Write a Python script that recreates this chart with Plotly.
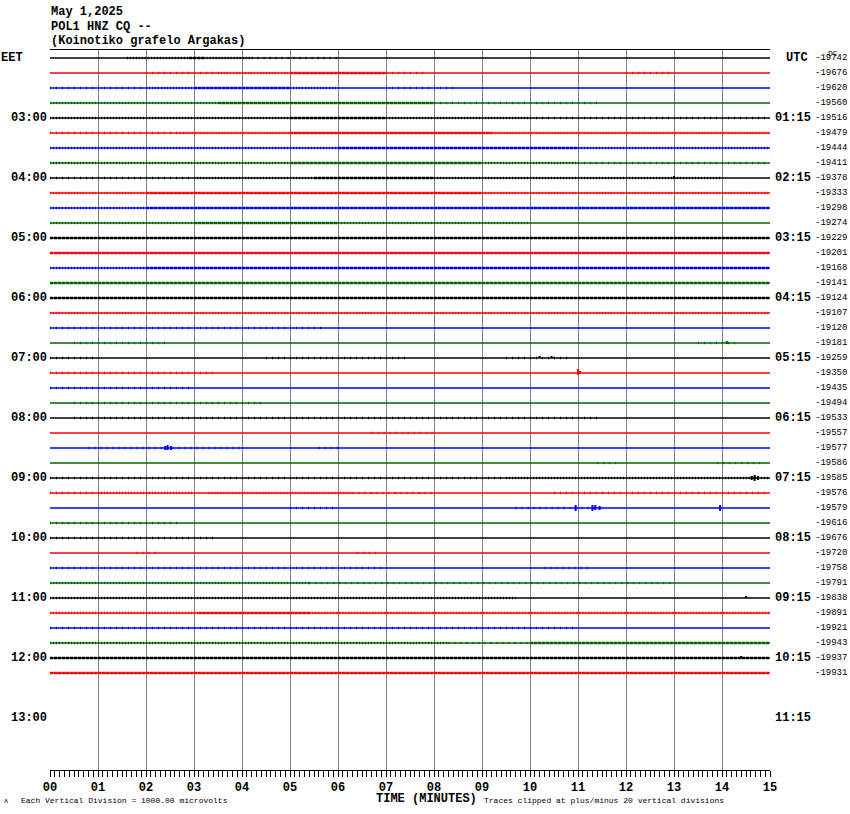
import plotly.graph_objects as go

# ---------------- data read from the helicorder ----------------
HEADER = ["May 1,2025", "POL1 HNZ CQ --", "(Koinotiko grafelo Argakas)"]
LOCAL_HOURS = ["03:00", "04:00", "05:00", "06:00", "07:00", "08:00",
               "09:00", "10:00", "11:00", "12:00", "13:00"]
UTC_HOURS = ["01:15", "02:15", "03:15", "04:15", "05:15", "06:15",
             "07:15", "08:15", "09:15", "10:15", "11:15"]
DC_VALUES = [-19742, -19676, -19620, -19560, -19516, -19479, -19444, -19411,
             -19378, -19333, -19298, -19274, -19229, -19201, -19168, -19141,
             -19124, -19107, -19120, -19181, -19259, -19350, -19435, -19494,
             -19533, -19557, -19577, -19586, -19585, -19576, -19579, -19616,
             -19676, -19720, -19758, -19791, -19838, -19891, -19921, -19943,
             -19937, -19931]
MINUTE_LABELS = ["00", "01", "02", "03", "04", "05", "06", "07", "08",
                 "09", "10", "11", "12", "13", "14", "15"]
TRACE_COLORS = ["#000000", "#ff0000", "#0000ff", "#006400"]

# noisy stretches of each line: trace index, start/end minute, density (1 sparse .. 3 dense)
NOISE_TRACE = [0, 0, 0, 0, 1, 1, 1, 1, 1, 2, 2, 2, 2, 2, 3, 3, 3, 4, 4, 4, 4,
               5, 5, 5, 5, 6, 6, 6, 7, 7, 7, 7, 8, 8, 8, 8, 9, 9, 9, 10, 10,
               11, 11, 11, 12, 13, 14, 14, 15, 16, 17, 18, 19, 19, 20, 20, 20,
               21, 22, 23, 24, 25, 26, 26, 27, 27, 28, 28, 29, 29, 29, 29, 29,
               30, 30, 31, 32, 33, 33, 34, 34, 35, 35, 36, 37, 37, 37, 38,
               39, 39, 39, 40, 41]
NOISE_START = [1.6, 2.9, 3.2, 4.2, 2.0, 3.5, 5.0, 7.0, 12.0, 0.0, 2.0, 3.0, 5.0, 7.0,
               0.0, 3.5, 8.0, 0.0, 5.0, 7.0, 10.0, 0.0, 2.7, 5.0, 9.2, 0.0, 6.0,
               11.0, 0.0, 5.0, 9.0, 11.0, 0.0, 3.0, 5.5, 8.0, 0.0, 2.0, 9.0, 0.0,
               2.0, 0.0, 3.0, 6.0, 0.0, 0.0, 0.0, 2.0, 0.0, 0.0, 0.0, 0.0, 0.5,
               13.5, 0.0, 4.5, 9.5, 0.0, 0.0, 0.5, 0.5, 6.7, 0.8, 5.6, 11.4, 13.9,
               0.0, 9.5, 0.0, 1.0, 3.3, 6.3, 10.5, 5.0, 9.7, 0.0, 0.0, 1.8, 6.4,
               0.0, 10.3, 0.0, 5.4, 0.0, 0.0, 3.1, 5.4, 0.0, 0.0, 8.3, 10.0, 0.0, 0.0]
NOISE_END = [2.9, 3.2, 4.2, 6.0, 3.5, 5.0, 7.0, 7.8, 12.9, 2.0, 3.0, 5.0, 6.0, 8.5,
             3.5, 8.0, 11.5, 5.0, 7.0, 10.0, 15.0, 2.7, 5.0, 9.2, 15.0, 6.0, 11.0,
             15.0, 5.0, 9.0, 11.0, 15.0, 3.0, 5.5, 8.0, 14.0, 2.0, 9.0, 15.0, 2.0,
             15.0, 3.0, 6.0, 10.0, 15.0, 15.0, 2.0, 15.0, 15.0, 15.0, 15.0, 5.7, 2.5,
             14.3, 1.0, 7.5, 10.8, 3.5, 3.0, 4.5, 11.5, 8.0, 4.0, 6.0, 11.9, 14.9,
             9.5, 15.0, 1.0, 3.0, 6.3, 8.0, 15.0, 6.0, 11.5, 2.7, 3.4, 2.2, 6.8,
             7.0, 11.2, 5.4, 13.0, 9.7, 3.1, 5.4, 15.0, 11.0, 8.3, 10.0, 15.0, 15.0, 15.0]
NOISE_LEVEL = [2, 3, 2, 1, 1, 2, 3, 1, 1, 1, 2, 3, 2, 1, 2, 3, 1, 2, 3, 2, 1,
               1, 2, 3, 2, 2, 3, 2, 2, 3, 2, 1, 1, 2, 3, 2, 2, 3, 2, 2, 3,
               2, 3, 2, 3, 3, 2, 3, 3, 3, 2, 1, 1, 1, 1, 1, 1,
               1, 1, 1, 1, 1, 1, 1, 1, 1, 1, 2, 1, 2, 2, 1, 1,
               1, 1, 1, 1, 1, 1, 1, 1, 2, 1, 2, 2, 3, 2, 1,
               2, 1, 3, 3, 3]

# distinct wiggles (amplitudes in vertical divisions: 1 division = trace spacing / 15)
EVENT_TRACE = [21, 21, 26, 26, 26, 28, 28, 28, 30, 30, 30, 30, 30, 20, 20, 36, 19, 8, 40]
EVENT_MINUTE = [11.00, 11.04, 2.40, 2.45, 2.52, 14.62, 14.68, 14.75, 10.95, 11.30,
                11.36, 11.45, 13.96, 10.2, 10.45, 14.5, 14.1, 13.0, 14.4]
EVENT_UP = [4, 2, 2, 3, 2, 2, 3, 2, 3, 3, 3, 2, 3, 2, 2, 2, 2, 2, 2]
EVENT_DOWN = [2, 1, 2, 2, 2, 2, 3, 2, 3, 3, 2, 2, 3, 0, 0, 0, 1, 1, 0]

# ---------------- figure ----------------
N = len(DC_VALUES)
PX = 15.0  # pixels per trace spacing
Y_TOP = -8 / PX
Y_BOT = 44 + 52 / PX

fig = go.Figure()

for i in range(N):
    fig.add_trace(go.Scatter(x=[0, 15], y=[i, i], mode="lines",
                             line=dict(color=TRACE_COLORS[i % 4], width=1.3),
                             hoverinfo="skip", showlegend=False))

DASH = {1: "1px,5px", 2: "1px,2px", 3: "3px,1px"}
WIDTH = {1: 2.5, 2: 2.5, 3: 2.5}
for t, s, e, lv in zip(NOISE_TRACE, NOISE_START, NOISE_END, NOISE_LEVEL):
    fig.add_trace(go.Scatter(x=[s, e], y=[t, t], mode="lines",
                             line=dict(color=TRACE_COLORS[t % 4], width=WIDTH[lv], dash=DASH[lv]),
                             hoverinfo="skip", showlegend=False))

for c in range(4):
    xs, ys = [], []
    for t, m, u, d in zip(EVENT_TRACE, EVENT_MINUTE, EVENT_UP, EVENT_DOWN):
        if t % 4 == c:
            xs += [m, m, None]
            ys += [t - u / PX, t + d / PX, None]
    if xs:
        fig.add_trace(go.Scatter(x=xs, y=ys, mode="lines",
                                 line=dict(color=TRACE_COLORS[c], width=2),
                                 hoverinfo="skip", showlegend=False))

MONO = "Liberation Mono"
ann = []
L, W = 50.0, 720.0


def px_x(p):
    return (p - L) / W


def px_y(p):
    return (770.0 - p) / 720.0


for k, txt in enumerate(HEADER):
    ann.append(dict(x=px_x(49), y=px_y(12 + 14.5 * k), xref="paper", yref="paper",
                    text=txt, showarrow=False, xanchor="left", yanchor="middle",
                    font=dict(family=MONO, size=12, color="black", weight="bold")))

ann.append(dict(x=px_x(-1), y=0, xref="paper", yref="y", text="EET", showarrow=False,
                xanchor="left", yanchor="middle",
                font=dict(family=MONO, size=12, color="black", weight="bold")))
ann.append(dict(x=px_x(784), y=0, xref="paper", yref="y", text="UTC", showarrow=False,
                xanchor="left", yanchor="middle",
                font=dict(family=MONO, size=12, color="black", weight="bold")))
ann.append(dict(x=px_x(826), y=-5 / PX, xref="paper", yref="y", text="DC", showarrow=False,
                xanchor="left", yanchor="middle",
                font=dict(family=MONO, size=8, color="black")))

for k, (lh, uh) in enumerate(zip(LOCAL_HOURS, UTC_HOURS)):
    yy = 4 * (k + 1)
    ann.append(dict(x=px_x(49), y=yy, xref="paper", yref="y", text=lh, showarrow=False,
                    xanchor="right", yanchor="middle",
                    font=dict(family=MONO, size=12, color="black", weight="bold")))
    ann.append(dict(x=px_x(773), y=yy, xref="paper", yref="y", text=uh, showarrow=False,
                    xanchor="left", yanchor="middle",
                    font=dict(family=MONO, size=12, color="black", weight="bold")))

for i, v in enumerate(DC_VALUES):
    ann.append(dict(x=px_x(813), y=i, xref="paper", yref="y", text=str(v), showarrow=False,
                    xanchor="left", yanchor="middle",
                    font=dict(family=MONO, size=9, color="black")))

ann.append(dict(x=px_x(426), y=px_y(799), xref="paper", yref="paper", text="TIME (MINUTES)",
                showarrow=False, xanchor="center", yanchor="middle",
                font=dict(family=MONO, size=12, color="black", weight="bold")))
ann.append(dict(x=px_x(19), y=px_y(800), xref="paper", yref="paper",
                text="Each Vertical Division = 1000.00 microvolts",
                showarrow=False, xanchor="left", yanchor="middle",
                font=dict(family=MONO, size=8, color="black")))
ann.append(dict(x=px_x(482), y=px_y(800), xref="paper", yref="paper",
                text="Traces clipped at plus/minus 20 vertical divisions",
                showarrow=False, xanchor="left", yanchor="middle",
                font=dict(family=MONO, size=8, color="black")))
ann.append(dict(x=px_x(2), y=px_y(801), xref="paper", yref="paper", text="ᴧ",
                showarrow=False, xanchor="left", yanchor="middle",
                font=dict(family=MONO, size=7, color="black")))

fig.update_layout(
    width=850, height=814,
    margin=dict(l=50, r=80, t=50, b=44, pad=0),
    paper_bgcolor="white", plot_bgcolor="white",
    annotations=ann,
    xaxis=dict(range=[0, 15], tickvals=list(range(16)), ticktext=MINUTE_LABELS,
               showgrid=True, gridcolor="#808080", gridwidth=1, zeroline=False,
               showline=True, linecolor="black", linewidth=1, mirror=True,
               ticks="outside", ticklen=6, tickcolor="black", tickwidth=1,
               tickfont=dict(family=MONO, size=12, color="black", weight="bold"),
               minor=dict(dtick=0.1, ticks="outside", ticklen=6, tickcolor="black",
                          tickwidth=1, showgrid=False),
               fixedrange=True),
    yaxis=dict(range=[Y_BOT, Y_TOP], showgrid=False, zeroline=False, showline=False,
               showticklabels=False, ticks="", fixedrange=True),
)

fig.write_html("out.html", config={"displayModeBar": False},
               post_script="document.body.style.margin='0px';")
